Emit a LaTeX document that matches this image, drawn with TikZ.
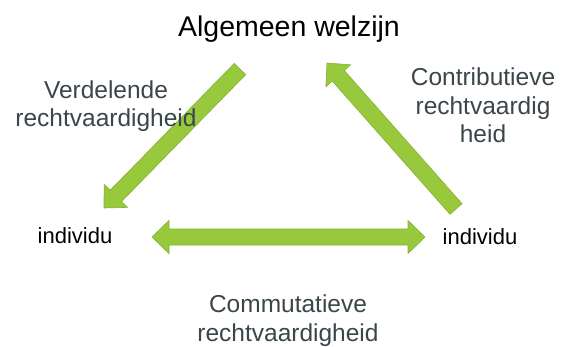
\documentclass[tikz,border=0pt]{standalone}
\usepackage{fontspec}
\setmainfont{Liberation Sans}
\usetikzlibrary{calc}

\definecolor{pijlgroen}{RGB}{152,201,60}
\definecolor{pijlrand}{RGB}{130,178,50}
\definecolor{tekstgrijs}{RGB}{58,70,74}

\begin{document}
\begin{tikzpicture}[x=1pt,y=-1pt,
        pijl/.style={fill=pijlgroen,draw=pijlrand,line width=0.6pt,line join=miter},
        soort/.style={anchor=base,align=center,inner sep=0pt,text=tekstgrijs,
            font=\fontsize{24.5}{28.5}\selectfont},
        persoon/.style={anchor=base,inner sep=0pt,font=\fontsize{22}{26}\selectfont}]
            \useasboundingbox (0,0) rectangle (561,347);
            \coordinate (vt) at (240,69);
            \coordinate (vp) at (104,208);
            \coordinate (ct) at (456,209);
            \coordinate (cp) at (327,63);
            \coordinate (ml) at (152,237);
            \coordinate (mr) at (425,237);
            \foreach \staart/\punt in {vt/vp,ct/cp} {
                \coordinate (h) at ($(\punt)!17pt!(\staart)$);
                \draw[pijl] ($(\staart)!8pt!90:(\punt)$) -- ($(h)!8pt!-90:(\staart)$)
                    -- ($(h)!16.5pt!-90:(\staart)$) -- (\punt) -- ($(h)!16.5pt!90:(\staart)$)
                    -- ($(h)!8pt!90:(\staart)$) -- ($(\staart)!8pt!-90:(\punt)$) -- cycle;
            }
            % dubbele pijl tussen de individuen
            \coordinate (hl) at ($(ml)!17pt!(mr)$);
            \coordinate (hr) at ($(mr)!17pt!(ml)$);
            \draw[pijl] (ml) -- ($(hl)!16.5pt!90:(mr)$) -- ($(hl)!8pt!90:(mr)$)
                -- ($(hr)!8pt!-90:(ml)$) -- ($(hr)!16.5pt!-90:(ml)$) -- (mr)
                -- ($(hr)!16.5pt!90:(ml)$) -- ($(hr)!8pt!90:(ml)$)
                -- ($(hl)!8pt!-90:(mr)$) -- ($(hl)!16.5pt!-90:(mr)$) -- cycle;
            % teksten boven de pijlen
            \node[anchor=base,inner sep=0pt,font=\fontsize{28.5}{34}\selectfont] (aw) at (289,37) {Algemeen welzijn};
            \node[persoon] (il) at (75,243) {individu};
            \node[persoon] (ir) at (480,244) {individu};
            \node[soort] (vr) at (106,127) {Verdelende\\rechtvaardigheid};
            \node[soort] (cr) at (483,143) {Contributieve\\rechtvaardig\\heid};
            \node[soort] (kr) at (288,341) {Commutatieve\\rechtvaardigheid};
        \end{tikzpicture}
\end{document}
